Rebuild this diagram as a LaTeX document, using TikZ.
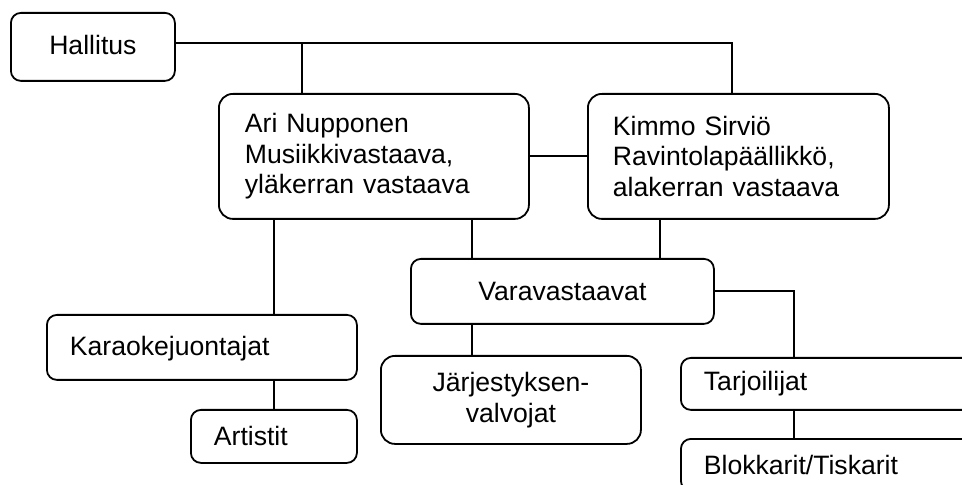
\documentclass[tikz,border=0pt]{standalone}
\usepackage{fontspec}
\setmainfont{Liberation Sans}

\begin{document}
\begin{tikzpicture}[
	x=0.5pt, y=-0.5pt, line width=0.9pt,
	box/.style={ draw, rounded corners=5pt, anchor=north west, inner sep=0pt, font=\fontsize{13.3}{15.3}\selectfont },
	bigbox/.style={ box, rounded corners=7pt },
	lbox/.style={ align=left },
	cbox/.style={ align=center }
]

\useasboundingbox (0,0) rectangle (962,485);
\clip (0,0) rectangle (962,485);

\node at (10,12) (hallitus) [box,cbox,minimum width=82pt,minimum height=34pt,text depth=2.5pt] {Hallitus};

\node at (218,93) (ari) [bigbox,lbox,inner xsep=13pt,text width=129pt,minimum height=62.5pt] {Ari Nupponen\\Musiikkivastaava,\\yläkerran vastaava};
\node at (587,93) (kimmo) [bigbox,lbox,inner xsep=12.5pt,text width=125.5pt,minimum height=62.5pt] {Kimmo Sirviö\\Ravintolapäällikkö,\\alakerran vastaava};

\node at (410,258) (vara) [box,cbox,minimum width=151.5pt,minimum height=32.5pt] {Varavastaavat};

\node at (46,314) (karaoke) [box,lbox,inner xsep=11.5pt,text width=132pt,minimum height=32.5pt,text depth=2pt] {Karaokejuontajat};
\node at (190,409) (artistit) [box,lbox,inner xsep=11.5pt,text width=60pt,minimum height=26.5pt] {Artistit};

\node at (380,355) (jarj) [bigbox,cbox,minimum width=130pt,minimum height=44pt] {Järjestyksen-\\valvojat};

\node at (680,357) (tarj) [box,lbox,inner xsep=11.5pt,text width=137pt,minimum height=26pt] {Tarjoilijat};
\node at (680,438) (blokk) [box,lbox,inner xsep=11.5pt,text width=137pt,minimum height=26pt] {Blokkarit/Tiskarit};

\coordinate (ha) at (302,43);
\coordinate (hk) at (732,43);
\coordinate (xk) at (274,0);
\coordinate (xv) at (472,0);
\coordinate (xs) at (660,0);
\coordinate (xt) at (794,0);

\draw (hallitus.east |- hk) -- (hk) -- (hk |- kimmo.north);
\draw (ha) -- (ha |- ari.north);
\draw (ari.east) -- (kimmo.west);

\draw (xk |- ari.south) -- (xk |- karaoke.north);
\draw (xk |- karaoke.south) -- (xk |- artistit.north);
\draw (xv |- ari.south) -- (xv |- vara.north);
\draw (xs |- kimmo.south) -- (xs |- vara.north);
\draw (xv |- vara.south) -- (xv |- jarj.north);

\draw (vara.east) -- (xt |- vara.east) -- (xt |- tarj.north);
\draw (xt |- tarj.south) -- (xt |- blokk.north);

\end{tikzpicture}
\end{document}
